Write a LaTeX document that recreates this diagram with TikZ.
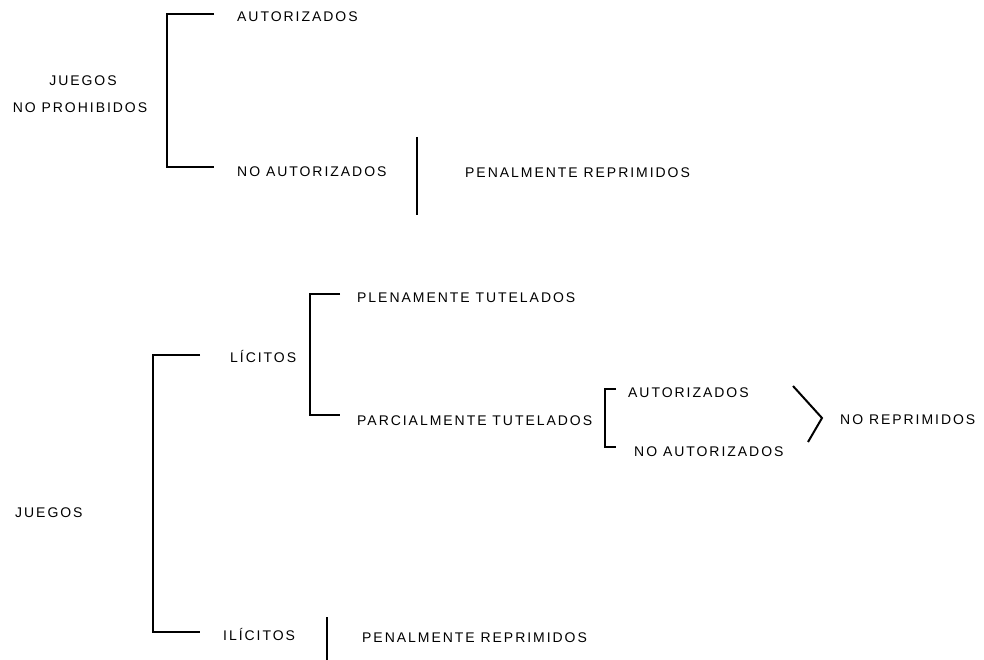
\documentclass[tikz,border=0pt]{standalone}
\usepackage{fontspec}
\setmainfont{Liberation Sans}[LetterSpace=14]
\usepackage{tikz}
\usetikzlibrary{positioning}
\tikzstyle{txt} = [anchor=west, inner sep=0pt, text height=10pt, text depth=0pt, font=\fontsize{14}{16}\selectfont]
\tikzstyle{ctxt} = [txt, anchor=center]
\tikzstyle{line} = [draw, line width=1.1pt]
\tikzstyle{angle} = [draw, line width=2pt]

\begin{document}
\begin{tikzpicture}[x=1pt, y=-1pt]
			\useasboundingbox (0,0) rectangle (984,660);

			% juegos no prohibidos
			\node [ctxt] (jg1) at (83, 81) {JUEGOS};
			\node [ctxt] (np) at (80, 108) {NO PROHIBIDOS};
			\node [txt] (aut1) at (237, 17) {AUTORIZADOS};
			\node [txt] (naut1) at (237, 172) {NO AUTORIZADOS};
			\node [txt] (pen1) at (465, 173) {PENALMENTE REPRIMIDOS};
			\coordinate (b1a) at (214, 14);
			\coordinate (b1t) at (167, 14);
			\coordinate (b1b) at (167, 167);
			\coordinate (b1c) at (214, 167);
			\coordinate (s1t) at (417, 137);
			\coordinate (s1b) at (417, 215);

			% juegos
			\node [txt] (jg2) at (15, 512) {JUEGOS};
			\node [txt] (lic) at (230, 357) {LÍCITOS};
			\node [txt] (ilic) at (223, 635) {ILÍCITOS};
			\node [txt] (plen) at (357, 297) {PLENAMENTE TUTELADOS};
			\node [txt] (parc) at (357, 420) {PARCIALMENTE TUTELADOS};
			\node [txt] (aut2) at (628, 392) {AUTORIZADOS};
			\node [txt] (naut2) at (634, 451) {NO AUTORIZADOS};
			\node [txt] (norep) at (840, 419) {NO REPRIMIDOS};
			\node [txt] (pen2) at (362, 637) {PENALMENTE REPRIMIDOS};
			\coordinate (b2a) at (200, 355);
			\coordinate (b2t) at (153, 355);
			\coordinate (b2b) at (153, 632);
			\coordinate (b2c) at (200, 632);
			\coordinate (b3a) at (340, 294);
			\coordinate (b3t) at (310, 294);
			\coordinate (b3b) at (310, 415);
			\coordinate (b3c) at (340, 415);
			\coordinate (b4a) at (616, 389);
			\coordinate (b4t) at (605, 389);
			\coordinate (b4b) at (605, 447);
			\coordinate (b4c) at (616, 447);
			\coordinate (g1) at (793, 386);
			\coordinate (g2) at (822, 418);
			\coordinate (g3) at (808, 442);
			\coordinate (s2t) at (327, 617);
			\coordinate (s2b) at (327, 660);

			\path [line] (b1a) -- (b1t) -- (b1b) -- (b1c);
			\path [line] (s1t) -- (s1b);
			\path [line] (b2a) -- (b2t) -- (b2b) -- (b2c);
			\path [line] (b3a) -- (b3t) -- (b3b) -- (b3c);
			\path [line] (b4a) -- (b4t) -- (b4b) -- (b4c);
			\path [angle] (g1) -- (g2) -- (g3);
			\path [line] (s2t) -- (s2b);
		\end{tikzpicture}
\end{document}
